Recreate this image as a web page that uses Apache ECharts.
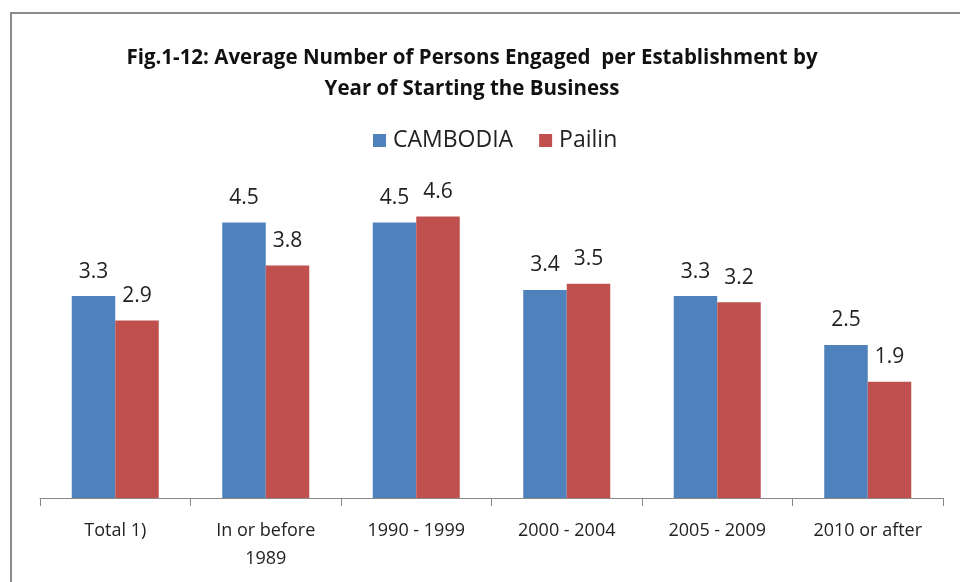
<!DOCTYPE html>
<html>
<head>
<meta charset="utf-8">
<script src="https://cdn.jsdelivr.net/npm/echarts@6/dist/echarts.min.js"></script>
<style>
html,body{margin:0;padding:0;background:#fff;}
#frame{position:absolute;left:10px;top:12px;width:960px;height:600px;border:2px solid #8c8c8c;box-sizing:border-box;}
#chart{position:absolute;left:0;top:0;width:960px;height:582px;}
</style>
</head>
<body>
<div id="frame"></div>
<div id="chart"></div>
<script>
const categories = ["Total 1)", "In or before\n1989", "1990 - 1999", "2000 - 2004", "2005 - 2009", "2010 or after"];
const cambodia = [3.3, 4.5, 4.5, 3.4, 3.3, 2.5];
const pailin = [2.9, 3.8, 4.6, 3.5, 3.2, 1.9];
const seriesNames = ["CAMBODIA", "Pailin"];
const titleText = "Fig.1-12: Average Number of Persons Engaged  per Establishment by\nYear of Starting the Business";

const font = "'Open Sans', 'Liberation Sans', sans-serif";
const chart = echarts.init(document.getElementById('chart'), null, {renderer: 'canvas'});
const labelStyle = {show: true, position: 'top', distance: 14, fontSize: 21, color: '#222', fontFamily: font};
chart.setOption({
  animation: false,
  title: {
    text: titleText,
    left: 467, top: 38, textAlign: 'center',
    textStyle: {fontFamily: font, fontWeight: 'bold', fontSize: 20.5, lineHeight: 31, color: '#111'}
  },
  legend: {
    data: seriesNames,
    top: 124,
    left: 368,
    itemWidth: 13, itemHeight: 13, itemGap: 26,
    icon: 'rect',
    textStyle: {fontFamily: font, fontSize: 23, color: '#222', padding: [0, 0, 0, 2]}
  },
  grid: {left: 40, right: 17, top: 192, bottom: 84},
  xAxis: {
    type: 'category',
    data: categories,
    axisLine: {lineStyle: {color: '#888', width: 1}},
    axisTick: {show: true, length: 8, lineStyle: {color: '#888'}},
    axisLabel: {fontFamily: font, fontSize: 18, color: '#222', margin: 19, lineHeight: 28, interval: 0}
  },
  yAxis: {
    type: 'value', min: 0, max: 5,
    show: false
  },
  series: [
    {name: seriesNames[0], type: 'bar', data: cambodia, barWidth: 43.5, barGap: '0%',
     itemStyle: {color: '#4F81BD'}, label: labelStyle},
    {name: seriesNames[1], type: 'bar', data: pailin, barWidth: 43.5, barGap: '0%',
     itemStyle: {color: '#C0504D'}, label: labelStyle}
  ]
});
</script>
</body>
</html>
